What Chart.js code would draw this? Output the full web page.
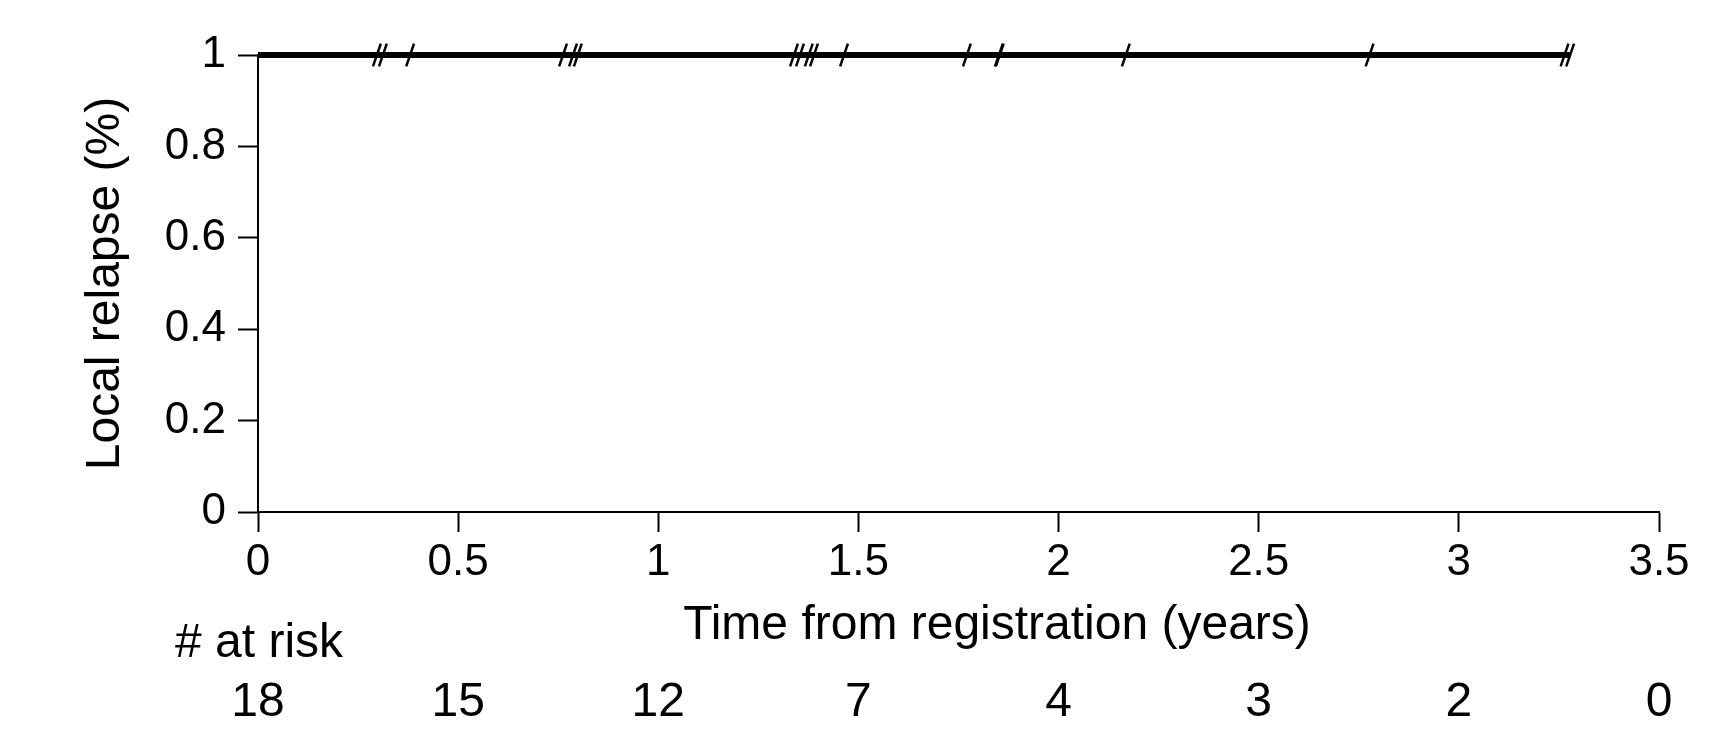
<!DOCTYPE html>
<html>
<head>
<meta charset="utf-8">
<script src="https://cdn.jsdelivr.net/npm/chart.js@4"></script>
<style>
  html, body { margin: 0; padding: 0; background: #fff; }
  #wrap { width: 1735px; height: 730px; }
</style>
</head>
<body>
<div id="wrap"><canvas id="myChart" width="1735" height="730"></canvas></div>
<script>
// survival curve (step line) and censoring times
const curveTimes = [0, 3.278];
const curveValues = [1, 1];
const censorTimes = [0.297, 0.312, 0.380, 0.762, 0.787, 0.799, 1.339, 1.354, 1.376, 1.389,
                     1.464, 1.771, 1.851, 1.853, 2.168, 2.777, 3.264, 3.278];
const censorValues = [1, 1, 1, 1, 1, 1, 1, 1, 1, 1, 1, 1, 1, 1, 1, 1, 1, 1];

// number at risk table
const riskTimes = [0, 0.5, 1, 1.5, 2, 2.5, 3, 3.5];
const atRisk = [18, 15, 12, 7, 4, 3, 2, 0];

const xTitle = 'Time from registration (years)';
const yTitle = 'Local relapse (%)';
const riskLabel = '# at risk';

const FONT = "'Liberation Sans', Arial, sans-serif";

const riskTable = {
    id: 'riskTable',
    afterDraw(chart) {
        const ctx = chart.ctx;
        const x = chart.scales.x;
        ctx.save();
        ctx.fillStyle = '#000';
        ctx.font = '48px ' + FONT;
        ctx.textBaseline = 'middle';
        // x axis title
        ctx.textAlign = 'center';
        ctx.fillText(xTitle, 997, 626);
        // at risk
        ctx.textAlign = 'left';
        ctx.fillText(riskLabel, 175, 644);
        ctx.textAlign = 'center';
        riskTimes.forEach((t, i) => {
            ctx.fillText(String(atRisk[i]), x.getPixelForValue(t), 703);
        });
        ctx.restore();
    }
};

const data = {
    datasets: [
        {
            label: 'curve',
            data: curveTimes.map((t, i) => ({ x: t, y: curveValues[i] })),
            borderColor: '#000',
            borderWidth: 6,
            stepped: true,
            pointRadius: 0,
            showLine: true,
            clip: false
        },
        {
            label: 'censored',
            data: censorTimes.map((t, i) => ({ x: t, y: censorValues[i] })),
            showLine: false,
            pointStyle: 'line',
            rotation: -71,
            pointRadius: 12,
            borderColor: '#000',
            borderWidth: 2.5,
            clip: false
        }
    ]
};

const tickFont = { family: FONT, size: 44 };
const fmt = (v) => String(parseFloat(Number(v).toFixed(2)));

const config = {
    type: 'scatter',
    data: data,
    options: {
        responsive: false,
        animation: false,
        layout: { padding: { top: 55, right: 76, left: 0, bottom: 0 } },
        plugins: { legend: { display: false }, tooltip: { enabled: false } },
        scales: {
            x: {
                type: 'linear',
                min: 0,
                max: 3.5,
                ticks: { stepSize: 0.5, font: tickFont, color: '#000', padding: 4, maxRotation: 0, callback: fmt },
                grid: { drawOnChartArea: false, tickLength: 20, tickColor: '#000', tickWidth: 2 },
                border: { display: true, color: '#000', width: 2 },
                afterFit: (scale) => { scale.height = 218; }
            },
            y: {
                min: 0,
                max: 1,
                ticks: { stepSize: 0.2, font: tickFont, color: '#000', padding: 12, callback: fmt },
                grid: { drawOnChartArea: false, tickLength: 20, tickColor: '#000', tickWidth: 2 },
                border: { display: true, color: '#000', width: 2 },
                title: {
                    display: true,
                    text: yTitle,
                    color: '#000',
                    font: { family: FONT, size: 48 },
                    padding: { top: 77, bottom: 0 }
                },
                afterFit: (scale) => { scale.width = 258; }
            }
        }
    },
    plugins: [riskTable]
};

const myChart = new Chart(document.getElementById('myChart'), config);
</script>
</body>
</html>
